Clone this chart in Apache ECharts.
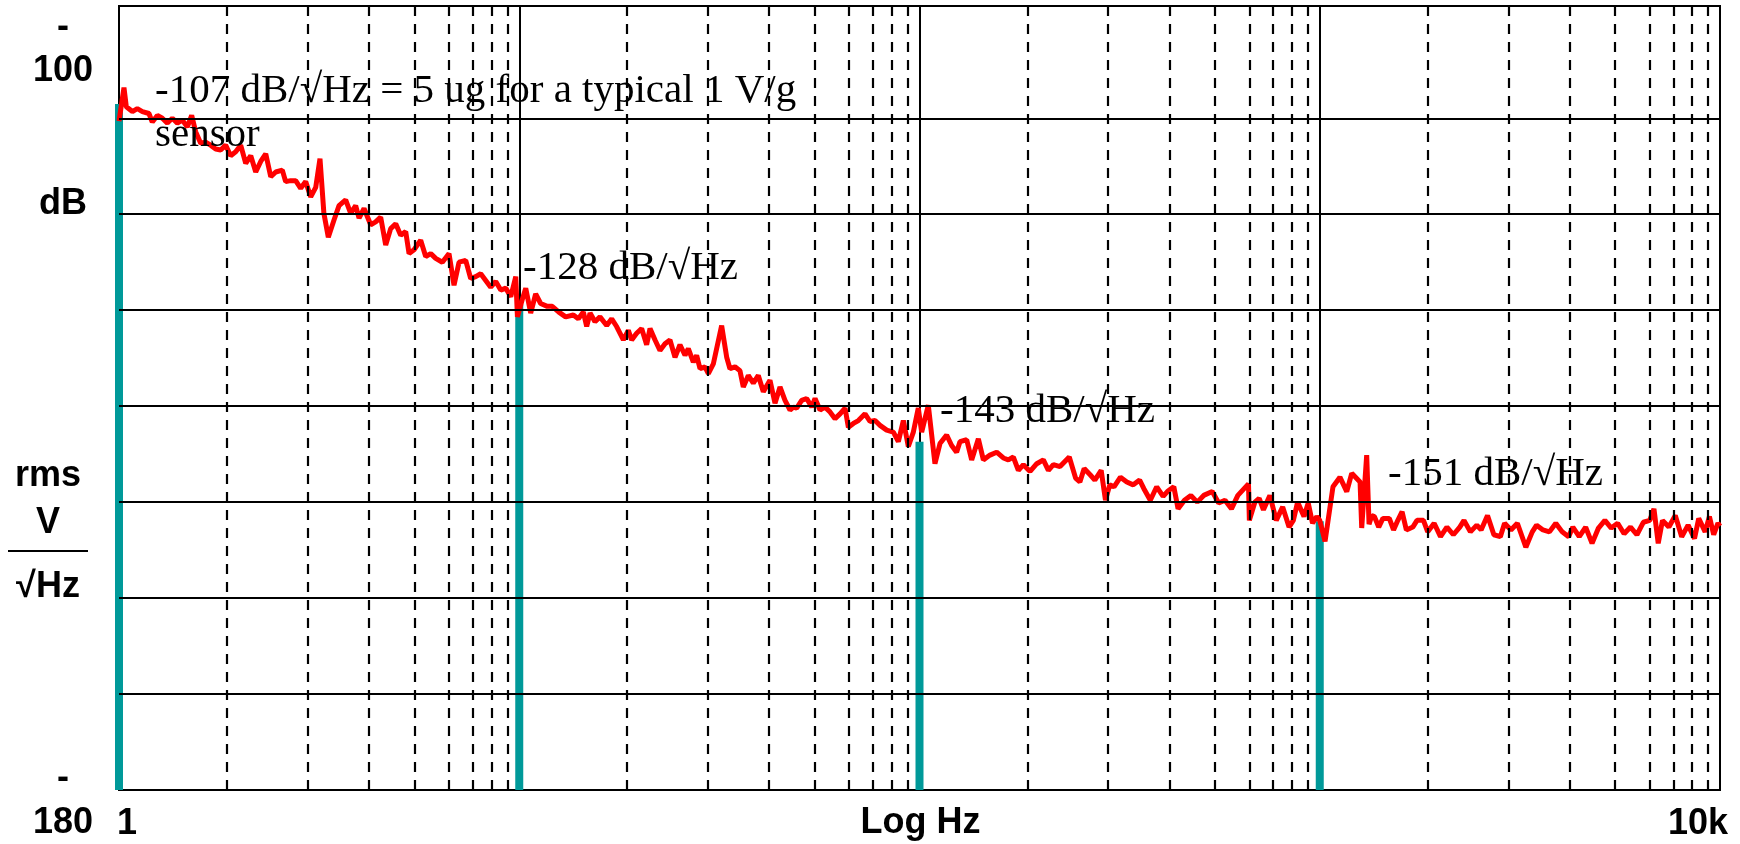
<!DOCTYPE html>
<html>
<head>
<meta charset="utf-8">
<script src="https://cdn.jsdelivr.net/npm/echarts@6/dist/echarts.min.js"></script>
<style>
html,body{margin:0;padding:0;background:#fff;}
#chart{width:1740px;height:844px;}
</style>
</head>
<body>
<div id="chart"></div>
<script>
// ---- data ----
const noiseFreqHz = [
  1, 1.029, 1.043, 1.08, 1.111, 1.144, 1.188, 1.211, 1.247, 1.283, 1.321, 1.359, 1.399, 1.44, 1.482, 1.519, 1.554, 1.6, 1.646, 1.694,
  1.744, 1.795, 1.847, 1.901, 1.957, 2.014, 2.073, 2.134, 2.196, 2.26, 2.326, 2.394, 2.464, 2.559, 2.608, 2.684, 2.763, 2.844, 2.927, 3.013,
  3.101, 3.178, 3.25, 3.334, 3.445, 3.546, 3.684, 3.792, 3.902, 3.979, 4.095, 4.254, 4.378, 4.506, 4.638, 4.773, 4.913, 5.056, 5.204, 5.305,
  5.46, 5.672, 5.838, 6.009, 6.184, 6.425, 6.676, 6.871, 7.072, 7.349, 7.563, 7.784, 8.012, 8.246, 8.487, 8.735, 8.99, 9.253, 9.523, 9.801,
  9.896, 10.19, 10.38, 10.68, 10.99, 11.31, 11.75, 12.09, 12.56, 13.06,
  13.65, 14.05, 14.46, 14.74, 15.03, 15.46, 15.91, 16.54, 17.02, 17.51, 18.2, 18.73, 19.09, 19.65, 20.22, 20.81, 21.22, 21.84, 22.47, 23.13,
  23.8, 24.5, 25.21, 25.95, 26.45, 27.22, 27.75, 28.29, 29.11, 29.68, 30.54, 32.04, 32.98, 33.61, 34.59, 35.6, 36.29, 37.35, 38.44, 39.56,
  40.72, 42.31, 43.55, 44.82, 46.13, 47.48, 48.4, 49.33, 50.77, 52.25, 53.78, 54.83, 56.42, 58.07, 59.76, 61.51, 63.31, 65.16, 66.42, 68.36,
  70.35, 73.1, 75.23, 77.43, 79.69, 82.8, 86.03, 88.54, 91.13, 93.78, 96.52, 99.31, 101.25, 105.2, 109.3, 112.5, 116.9, 120.3, 123.8, 126.2,
  131.2, 135.0, 140.3, 144.4, 150.0, 155.9, 162.0, 166.7, 171.6, 176.6, 181.8, 188.9, 196.3, 203.9, 209.9, 216.0, 224.4,
  236.7, 245.5, 251.6, 257.9, 267.6, 274.2, 284.4, 291.5, 298.8, 306.2, 317.7, 329.6, 342.0, 354.8, 363.6, 377.3, 391.4, 406.1, 416.2, 431.9,
  442.6, 459.2, 476.4, 494.3, 512.9, 538.8, 559.0, 579.9, 601.7, 624.3, 663.7, 667.0, 688.7, 705.8, 723.3, 750.5, 778.7, 807.9, 838.1, 859.0,
  880.4, 913.4, 935.9, 959.2, 983.0, 1000, 1031, 1079, 1123, 1168, 1202, 1261, 1273, 1310, 1328, 1349, 1369, 1404, 1438, 1492,
  1529, 1567, 1606, 1646, 1708, 1750, 1816, 1861, 1931, 2003, 2078, 2157, 2238, 2293, 2379, 2468, 2530, 2625, 2723, 2826,
  2896, 3004, 3117, 3273, 3396, 3481, 3612, 3748, 3888, 4034, 4186, 4289, 4450, 4617, 4790, 4970, 5157, 5350, 5551, 5760,
  5976, 6200, 6433, 6675, 6839, 7009, 7183, 7452, 7732, 8022, 8323, 8636, 8848, 9181, 9410, 9643, 9883, 10000
];
const noiseDb = [
  -110.3, -106.8, -108.8, -109.3, -109.0, -109.3, -109.5, -110.4, -109.7, -110.0, -110.5, -110.0, -110.5, -110.2, -110.9, -109.7, -111.4, -112.6, -112.5, -112.8,
  -113.2, -113.3, -112.8, -113.9, -113.5, -112.8, -114.7, -113.9, -115.6, -114.5, -113.7, -116.1, -115.6, -115.4, -116.6, -116.5, -116.5, -117.3, -116.6, -118.2,
  -117.2, -114.2, -119.9, -122.4, -120.6, -119.1, -118.5, -119.9, -119.1, -120.4, -119.4, -121.1, -120.8, -120.3, -123.2, -121.5, -121.0, -122.2, -121.8, -124.1,
  -123.7, -122.7, -124.4, -124.1, -124.6, -125.0, -124.1, -127.4, -125.0, -124.8, -126.7, -126.5, -126.2, -126.9, -127.6, -127.0, -127.9, -127.7, -128.6, -126.5,
  -130.7, -128.8, -127.7, -130.3, -128.3, -129.3, -129.6, -129.6, -130.2, -130.7,
  -130.5, -130.9, -130.2, -131.7, -130.3, -131.2, -130.7, -131.6, -130.9, -131.7, -133.1, -132.1, -133.1, -132.4, -131.9, -133.6, -131.9, -133.1, -134.2, -133.5,
  -133.1, -134.9, -133.6, -134.7, -134.0, -135.4, -134.7, -136.1, -135.9, -136.6, -135.6, -131.6, -134.9, -136.1, -135.9, -136.3, -138.0, -136.8, -137.6, -136.8,
  -138.5, -137.3, -139.7, -138.0, -139.4, -140.4, -140.1, -140.2, -139.4, -139.2, -140.1, -139.2, -140.4, -140.1, -140.6, -141.3, -140.8, -140.2, -142.2, -141.8,
  -141.5, -140.8, -141.6, -141.5, -142.0, -142.5, -142.7, -143.7, -141.5, -144.2, -142.7, -140.2, -142.7, -139.9, -146.0, -143.9, -143.0, -144.1, -144.8, -143.7,
  -143.5, -145.6, -143.4, -145.6, -145.1, -144.8, -145.4, -145.6, -145.3, -146.7, -146.1, -146.8, -146.0, -145.6, -146.7, -146.1, -146.3,
  -145.3, -147.5, -147.9, -146.5, -147.2, -147.7, -146.7, -149.8, -148.2, -148.4, -147.4, -147.9, -148.2, -147.7, -148.6, -149.8, -148.4, -149.4, -148.9, -148.4,
  -150.7, -149.8, -149.3, -150.0, -149.3, -148.9, -150.1, -149.8, -150.7, -149.3, -148.1, -151.9, -150.0, -149.6, -150.8, -149.3, -151.9, -150.5, -152.6, -151.9,
  -150.0, -151.5, -150.1, -152.2, -151.5, -151.9, -154.1, -148.4, -147.4, -148.9, -147.0, -147.9, -152.7, -145.1, -152.3, -151.4, -151.5, -152.6, -151.7, -151.7,
  -152.9, -151.9, -151.0, -152.9, -152.6, -151.9, -151.9, -153.1, -152.2, -153.6, -152.6, -153.4, -152.6, -151.9, -153.1, -152.4, -152.9, -151.4, -153.4, -153.6,
  -152.2, -152.9, -152.2, -154.7, -153.1, -152.4, -152.9, -153.1, -152.2, -153.1, -153.6, -152.6, -153.6, -152.6, -154.3, -152.7, -151.9, -152.7, -152.2, -153.3,
  -152.6, -153.4, -152.1, -151.9, -150.7, -154.3, -151.9, -152.6, -151.4, -153.6, -152.4, -153.8, -151.7, -153.1, -151.5, -153.4, -152.2, -152.5
];
const markerFreqHz = [1, 10, 100, 1000];
const markerDb = [-108.5, -129.4, -143.7, -152.0];
const majorGridDb = [-170, -160, -150, -140, -130, -120, -110];
// dashed minor lines (they are not at exact 2..9 positions)
const minorGridHz = [
  1.86, 2.96, 4.21, 5.47, 6.67, 7.65, 8.52, 9.34,
  18.6, 29.6, 42.1, 54.7, 66.7, 76.5, 85.2, 93.4,
  186, 296, 421, 547, 667, 765, 852, 934,
  1860, 2960, 4210, 5470, 6670, 7650, 8520, 9340
];
const xTickLabels = ['1', '10k'];
const xAxisTitle = 'Log Hz';
const yLabelTexts = ['-', '100', 'dB', 'rms', 'V', '√Hz', '-', '180'];
const annotationTexts = [
  '-107 dB/√Hz = 5 ug for a typical 1 V/g\nsensor',
  '-128 dB/√Hz',
  '-143 dB/√Hz',
  '-151 dB/√Hz'
];

// ---- layout (positions only) ----
const yLabelPos = [[63, 27.5], [63, 71], [63, 204], [48, 476], [48, 523], [48, 587], [63, 778], [63, 823]];
const xTickPos = [[117, 824.5, 'left'], [1728, 824.5, 'right']];
const xTitlePos = [920.5, 823];
const annotationPos = [[155, 69, 'top'], [523, 268, 'middle'], [940, 411, 'middle'], [1388, 474, 'middle']];

const sansBold = 'bold 36px "Liberation Sans", Arial, sans-serif';
const serif = '41px "Liberation Serif", "Times New Roman", serif';

const graphics = [];
yLabelTexts.forEach((t, i) => {
  graphics.push({type: 'text', x: yLabelPos[i][0], y: yLabelPos[i][1], z: 100, silent: true,
    style: {text: t, font: sansBold, fill: '#000', align: 'center', verticalAlign: 'middle'}});
});
graphics.push({type: 'line', z: 100, silent: true, shape: {x1: 8, y1: 551, x2: 88, y2: 551},
  style: {stroke: '#000', lineWidth: 2}});
xTickLabels.forEach((t, i) => {
  graphics.push({type: 'text', x: xTickPos[i][0], y: xTickPos[i][1], z: 100, silent: true,
    style: {text: t, font: sansBold, fill: '#000', align: xTickPos[i][2], verticalAlign: 'middle'}});
});
graphics.push({type: 'text', x: xTitlePos[0], y: xTitlePos[1], z: 100, silent: true,
  style: {text: xAxisTitle, font: sansBold, fill: '#000', align: 'center', verticalAlign: 'middle'}});
annotationTexts.forEach((t, i) => {
  graphics.push({type: 'text', x: annotationPos[i][0], y: annotationPos[i][1], z: 100, silent: true,
    style: {text: t, font: serif, fill: '#000', align: 'left', verticalAlign: annotationPos[i][2], lineHeight: 44}});
});

const chart = echarts.init(document.getElementById('chart'), null, {renderer: 'canvas'});
chart.setOption({
  animation: false,
  backgroundColor: '#fff',
  grid: {left: 119, right: 20, top: 6, bottom: 54, show: true, borderColor: '#000', borderWidth: 2, backgroundColor: 'transparent'},
  xAxis: {
    type: 'log', logBase: 10, min: 1, max: 10000,
    axisLine: {show: false}, axisTick: {show: false}, axisLabel: {show: false},
    splitLine: {show: true, lineStyle: {color: '#000', width: 2}}
  },
  yAxis: {
    type: 'value', min: -180, max: -98.3,
    axisLine: {show: false}, axisTick: {show: false}, axisLabel: {show: false},
    splitLine: {show: false}
  },
  series: [
    {
      type: 'line', z: 1, silent: true, symbol: 'none',
      data: [[1, -180]], lineStyle: {width: 0, opacity: 0},
      markLine: {
        silent: true, symbol: ['none', 'none'], label: {show: false}, animation: false,
        data: majorGridDb.map(v => ({yAxis: v, lineStyle: {color: '#000', width: 2, type: 'solid'}}))
          .concat(minorGridHz.map(f => ({xAxis: f, lineStyle: {color: '#000', width: 2.2, type: [10, 8]}})))
      }
    },
    {
      type: 'custom', z: 3, silent: true,
      data: markerFreqHz.map((f, i) => [f, markerDb[i]]),
      renderItem: function (params, api) {
        const top = api.coord([api.value(0), api.value(1)]);
        const bot = api.coord([api.value(0), -180]);
        return {type: 'rect', shape: {x: top[0] - 4, y: top[1], width: 8, height: bot[1] - top[1]},
          style: {fill: '#009999'}};
      }
    },
    {
      type: 'line', z: 4, silent: true, symbol: 'none', showSymbol: false,
      data: noiseFreqHz.map((f, i) => [f, noiseDb[i]]),
      lineStyle: {color: '#ff0000', width: 5}
    }
  ],
  graphic: graphics
});
</script>
</body>
</html>
